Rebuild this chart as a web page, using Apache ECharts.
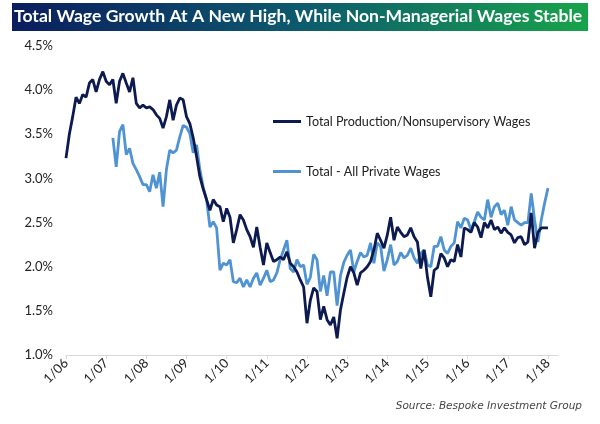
<!DOCTYPE html>
<html><head><meta charset="utf-8">
<script src="https://cdn.jsdelivr.net/npm/echarts@6/dist/echarts.min.js"></script>
<style>html,body{margin:0;padding:0;background:#fff}#c{width:600px;height:424px}</style>
</head><body><div id="c"></div>
<script>
// Total Production/Nonsupervisory Wages, YoY %, monthly Jan 2006 .. Jan 2018
const prod2006 = [3.23, 3.50, 3.70, 3.92, 3.85, 3.95, 3.92, 4.08, 4.12, 3.98, 4.12, 4.21];
const prod2007 = [4.10, 4.06, 4.12, 3.85, 4.10, 4.19, 4.08, 3.98, 4.14, 3.85, 3.80, 3.83];
const prod2008 = [3.80, 3.81, 3.78, 3.72, 3.68, 3.57, 3.70, 3.89, 3.66, 3.83, 3.91, 3.89];
const prod2009 = [3.70, 3.62, 3.46, 3.25, 3.02, 2.88, 2.76, 2.64, 2.76, 2.70, 2.68, 2.51];
const prod2010 = [2.66, 2.56, 2.27, 2.42, 2.59, 2.53, 2.42, 2.34, 2.22, 2.45, 2.22, 2.02];
const prod2011 = [2.27, 2.16, 2.06, 2.08, 2.11, 2.08, 2.17, 2.04, 2.00, 1.94, 1.85, 1.77];
const prod2012 = [1.36, 1.62, 1.76, 1.72, 1.40, 1.55, 1.40, 1.34, 1.43, 1.19, 1.51, 1.70];
const prod2013 = [1.88, 2.00, 1.93, 1.79, 1.93, 1.96, 2.00, 2.06, 2.19, 2.38, 2.30, 2.21];
const prod2014 = [2.36, 2.56, 2.30, 2.45, 2.39, 2.34, 2.36, 2.44, 2.34, 2.28, 1.98, 2.19];
const prod2015 = [1.88, 1.66, 1.96, 1.99, 2.15, 2.10, 2.00, 2.08, 2.06, 2.25, 2.11, 2.44];
const prod2016 = [2.42, 2.39, 2.50, 2.45, 2.33, 2.50, 2.44, 2.53, 2.42, 2.45, 2.38, 2.44];
const prod2017 = [2.39, 2.36, 2.27, 2.33, 2.34, 2.25, 2.28, 2.61, 2.21, 2.39, 2.44, 2.44];
const prod2018 = [2.44];

// Total - All Private Wages, YoY %, monthly (starts Mar 2007)
const priv2006 = [null, null, null, null, null, null, null, null, null, null, null, null];
const priv2007 = [null, null, 3.46, 3.13, 3.53, 3.61, 3.27, 3.34, 3.17, 3.10, 3.02, 2.93];
const priv2008 = [2.93, 2.85, 3.04, 2.89, 3.07, 2.68, 3.10, 3.32, 3.29, 3.32, 3.47, 3.60];
const priv2009 = [3.58, 3.51, 3.29, 3.38, 3.10, 2.90, 2.76, 2.45, 2.51, 2.44, 1.96, 2.04];
const priv2010 = [2.02, 2.08, 1.83, 1.82, 1.87, 1.77, 1.85, 1.77, 1.87, 1.93, 1.79, 1.87];
const priv2011 = [1.96, 1.83, 1.85, 1.93, 2.08, 2.19, 2.30, 1.98, 1.94, 2.08, 2.00, 2.02];
const priv2012 = [1.80, 1.88, 2.14, 2.08, 1.72, 1.90, 1.67, 1.94, 1.94, 1.56, 1.90, 2.05];
const priv2013 = [2.13, 2.19, 1.94, 2.06, 2.16, 2.11, 2.13, 2.27, 2.04, 2.27, 2.23, 1.95];
const priv2014 = [2.08, 2.25, 2.02, 2.06, 2.16, 2.10, 2.13, 2.21, 2.10, 2.04, 2.15, 2.19];
const priv2015 = [2.02, 2.00, 2.23, 2.23, 2.34, 2.19, 2.15, 2.23, 2.27, 2.51, 2.44, 2.55];
const priv2016 = [2.53, 2.42, 2.51, 2.62, 2.56, 2.53, 2.76, 2.56, 2.68, 2.72, 2.59, 2.64];
const priv2017 = [2.47, 2.68, 2.53, 2.50, 2.47, 2.50, 2.50, 2.83, 2.53, 2.28, 2.53, 2.72];
const priv2018 = [2.89];

const seriesNames = ['Total Production/Nonsupervisory Wages', 'Total - All Private Wages'];
const titleText = 'Total Wage Growth At A New High, While Non-Managerial Wages Stable';
const sourceText = 'Source: Bespoke Investment Group';

// month categories Jan 2006 .. Apr 2018
const categories = [];
for (let y = 2006; y <= 2018; y++) {
  for (let m = 1; m <= 12; m++) {
    if (y === 2018 && m > 4) break;
    categories.push(m + '/' + String(y).slice(2));
  }
}
const prodData = [].concat(prod2006, prod2007, prod2008, prod2009, prod2010, prod2011, prod2012, prod2013, prod2014, prod2015, prod2016, prod2017, prod2018);
const privData = [].concat(priv2006, priv2007, priv2008, priv2009, priv2010, priv2011, priv2012, priv2013, priv2014, priv2015, priv2016, priv2017, priv2018);

const DARK = '#0c1a4f', LIGHT = '#4f93d2';
const FONT = 'Lato';
const chart = echarts.init(document.getElementById('c'), null, {renderer: 'canvas'});
chart.setOption({
  animation: false,
  backgroundColor: '#fff',
  textStyle: {fontFamily: FONT},
  grid: {left: 66, right: 42, top: 46, bottom: 69},
  graphic: [
    {type: 'rect', left: 12, top: 3, shape: {width: 576, height: 28},
     style: {fill: new echarts.graphic.LinearGradient(0, 0, 1, 0, [
       {offset: 0, color: '#0b1d5e'}, {offset: 0.5, color: '#0d5a6e'}, {offset: 1, color: '#18a34a'}])}},
    {type: 'text', left: 14, top: 7,
     style: {text: titleText, fill: '#fff', font: 'bold 17.6px ' + FONT}},
    {type: 'text', right: 18, top: 401,
     style: {text: sourceText, fill: '#444', font: 'italic 10.5px "DejaVu Sans"'}}
  ],
  legend: {
    orient: 'vertical', left: 273, top: 115, itemGap: 37, padding: 0,
    itemWidth: 28, itemHeight: 3, icon: 'rect',
    textStyle: {fontFamily: FONT, fontSize: 12.6, color: '#222'},
    data: seriesNames
  },
  xAxis: {
    type: 'category', data: categories, boundaryGap: false,
    axisLine: {lineStyle: {color: '#d9d9d9', width: 1}},
    axisTick: {show: true, interval: (i) => i % 12 === 0, length: 4, lineStyle: {color: '#d9d9d9'}},
    axisLabel: {interval: (i) => i % 12 === 0, rotate: 45, fontSize: 13, color: '#222', margin: 6, fontFamily: FONT},
    splitLine: {show: false}
  },
  yAxis: {
    type: 'value', min: 1.0, max: 4.5, interval: 0.5,
    axisLine: {show: false}, axisTick: {show: false},
    splitLine: {show: false},
    axisLabel: {formatter: (v) => v.toFixed(1) + '%', fontSize: 13, color: '#222', margin: 13, fontFamily: FONT}
  },
  series: [
    {name: seriesNames[0], type: 'line', data: prodData, showSymbol: false, symbol: 'none',
     lineStyle: {color: DARK, width: 2.8}, itemStyle: {color: DARK}, z: 3},
    {name: seriesNames[1], type: 'line', data: privData, showSymbol: false, symbol: 'none',
     lineStyle: {color: LIGHT, width: 2.8}, itemStyle: {color: LIGHT}, z: 2}
  ]
});
</script></body></html>
